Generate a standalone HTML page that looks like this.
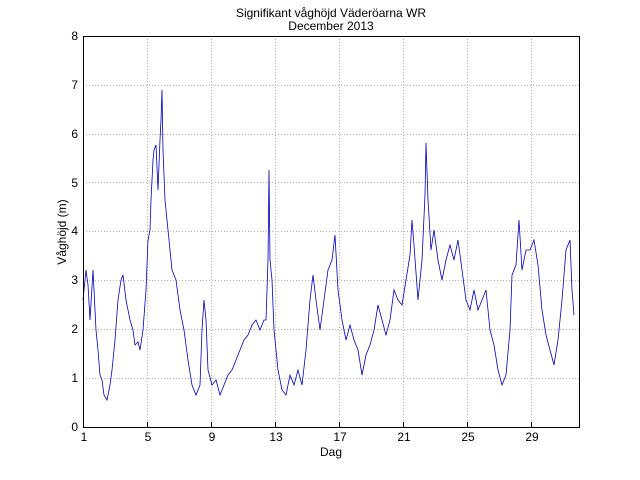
<!DOCTYPE html>
<html><head><style>body{margin:0;background:#fff}svg{display:block}</style></head><body>
<svg width="640" height="480" xmlns="http://www.w3.org/2000/svg" font-family="Liberation Sans, sans-serif">
<rect width="640" height="480" fill="#fff"/>
<rect x="83" y="36" width="496" height="391" fill="#fff" stroke="none"/>
<g stroke="#b0b0b0" stroke-dasharray="1,2" stroke-width="1">
<line x1="147.5" y1="36" x2="147.5" y2="427"/><line x1="211.5" y1="36" x2="211.5" y2="427"/>
<line x1="275.5" y1="36" x2="275.5" y2="427"/><line x1="339.5" y1="36" x2="339.5" y2="427"/>
<line x1="403.5" y1="36" x2="403.5" y2="427"/><line x1="467.5" y1="36" x2="467.5" y2="427"/>
<line x1="531.5" y1="36" x2="531.5" y2="427"/>
<line x1="83" y1="378.5" x2="579" y2="378.5"/><line x1="83" y1="329.5" x2="579" y2="329.5"/>
<line x1="83" y1="280.5" x2="579" y2="280.5"/><line x1="83" y1="231.5" x2="579" y2="231.5"/>
<line x1="83" y1="182.5" x2="579" y2="182.5"/><line x1="83" y1="134.5" x2="579" y2="134.5"/>
<line x1="83" y1="85.5" x2="579" y2="85.5"/>
</g>
<polyline fill="none" stroke="#0000c0" stroke-width="0.8" points="83,300 86,270 88,285 90,320 93,270 96,330 98,350 100,375 102,380 104,395 107,400 110,385 112,370 115,340 118,300 121,280 123,275 126,300 130,320 133,330 135,345 138,342 140,350 143,330 146,290 148,240 150,230 151,200 153,160 154,150 156,145 158,190 160,140 161,120 162,90 163,150 165,200 168,230 170,250 172,270 176,280 180,310 184,330 188,360 192,385 196,395 200,385 202,330 204,300 206,320 208,370 212,385 216,380 220,395 224,385 228,375 232,370 236,360 240,350 244,340 248,335 252,325 256,320 260,330 264,320 266,320 268,260 269,170 270,260 272,280 274,330 278,370 282,390 286,395 290,375 294,385 298,370 302,385 306,350 310,300 313,275 316,300 320,330 324,300 328,270 332,260 335,235 338,290 342,320 346,340 350,325 354,340 358,350 362,375 366,355 370,345 374,330 378,305 382,320 386,335 390,320 394,290 398,300 402,305 406,280 410,255 412,220 414,245 418,300 422,260 425,195 426,143 428,200 431,250 434,230 438,260 442,280 446,260 450,245 454,260 458,240 462,270 466,300 470,310 474,290 478,310 482,300 486,290 490,330 494,345 498,370 502,385 506,375 510,330 512,275 516,265 519,220 522,270 526,250 530,250 534,240 538,265 542,310 546,335 550,350 554,365 558,340 562,300 566,250 570,240 572,290 574,315"/>
<rect x="83.5" y="36.5" width="496" height="391" fill="none" stroke="#000" stroke-width="1"/>
<g stroke="#000">
<line x1="147.5" y1="427" x2="147.5" y2="422"/><line x1="211.5" y1="427" x2="211.5" y2="422"/>
<line x1="275.5" y1="427" x2="275.5" y2="422"/><line x1="339.5" y1="427" x2="339.5" y2="422"/>
<line x1="403.5" y1="427" x2="403.5" y2="422"/><line x1="467.5" y1="427" x2="467.5" y2="422"/>
<line x1="531.5" y1="427" x2="531.5" y2="422"/>
</g>
<g font-size="12" text-anchor="middle" fill="#000">
<text x="84" y="441">1</text><text x="148" y="441">5</text><text x="212" y="441">9</text>
<text x="276" y="441">13</text><text x="340" y="441">17</text><text x="404" y="441">21</text>
<text x="468" y="441">25</text><text x="532" y="441">29</text>
</g>
<g font-size="12" text-anchor="end" fill="#000">
<text x="78" y="431">0</text><text x="78" y="382">1</text><text x="78" y="333">2</text>
<text x="78" y="284">3</text><text x="78" y="235">4</text><text x="78" y="187">5</text>
<text x="78" y="138">6</text><text x="78" y="89">7</text><text x="78" y="40">8</text>
</g>
<text x="331" y="456" font-size="12" text-anchor="middle">Dag</text>
<text x="0" y="0" font-size="12" text-anchor="middle" transform="translate(66,232) rotate(-90)">Våghöjd (m)</text>
<text x="331" y="17" font-size="12" text-anchor="middle">Signifikant våghöjd Väderöarna WR</text>
<text x="331" y="30" font-size="12" text-anchor="middle">December 2013</text>
</svg>
</body></html>
